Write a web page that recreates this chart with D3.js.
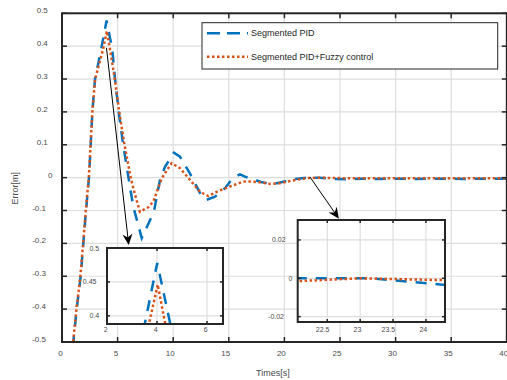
<!DOCTYPE html>
<html><head><meta charset="utf-8">
<script src="https://cdn.jsdelivr.net/npm/d3@7"></script>
<style>body{margin:0;background:#fff;overflow:hidden} text{font-family:"Liberation Sans",Arial,sans-serif}</style>
</head><body><svg id="c" width="507" height="380"></svg>
<script>
// ---------------- data ----------------
const seriesNames = ["Segmented PID", "Segmented PID+Fuzzy control"];
const pidTime = [0, 1.02, 1.32, 1.68, 1.92, 2.16, 2.43, 2.58, 2.73, 2.97, 3.52, 4.01, 4.52, 4.77, 5.1, 5.5, 5.98, 6.41, 7.17, 7.85, 8.27, 8.81, 9.26, 10.07, 10.61, 11.5, 12.41, 12.95, 13.76, 14.66, 15.38, 16.0, 16.46, 17.9, 18.9, 20.0, 21.0, 22.05, 23.15, 24.3, 25.7, 27, 28.5, 30, 32, 34, 36, 38, 40];
const pidError = [-1.0, -0.5, -0.4, -0.3, -0.2, -0.1, 0, 0.1, 0.2, 0.3, 0.39, 0.478, 0.39, 0.3, 0.2, 0.1, 0, -0.088, -0.184, -0.134, -0.103, -0.007, 0.033, 0.076, 0.064, 0.013, -0.047, -0.068, -0.058, -0.032, -0.001, 0.01, 0.003, -0.013, -0.02, -0.012, -0.004, 0.0, 0.0, -0.0035, -0.005, -0.003, -0.004, -0.003, -0.004, -0.003, -0.004, -0.003, -0.003];
const fuzzyTime = [0, 1.0, 1.3, 1.65, 1.9, 2.14, 2.41, 2.57, 2.73, 2.98, 3.69, 4.03, 4.32, 4.75, 5.15, 5.62, 6.18, 6.55, 7.01, 7.76, 8.21, 8.97, 9.56, 9.86, 10.61, 11.51, 12.41, 13.16, 13.91, 15.1, 16.3, 16.9, 17.8, 18.7, 19.6, 20.65, 22.05, 23.0, 24.3, 26, 28, 30, 32, 34, 36, 38, 40];
const fuzzyError = [-1.0, -0.5, -0.4, -0.3, -0.2, -0.1, 0, 0.1, 0.2, 0.3, 0.39, 0.446, 0.39, 0.3, 0.2, 0.1, 0, -0.05, -0.104, -0.09, -0.073, -0.002, 0.029, 0.044, 0.029, -0.007, -0.043, -0.056, -0.043, -0.027, -0.012, -0.012, -0.014, -0.019, -0.017, -0.009, -0.0015, 0.0, -0.001, -0.002, -0.002, -0.002, -0.002, -0.002, -0.002, -0.002, -0.002];
const xTicks = [0, 5, 10, 15, 20, 25, 30, 35, 40];
const yTicks = [-0.5, -0.4, -0.3, -0.2, -0.1, 0, 0.1, 0.2, 0.3, 0.4, 0.5];
const inset1XTicks = [2, 4, 6];
const inset1YTicks = [0.4, 0.45, 0.5];
const inset2XTicks = [22.5, 23, 23.5, 24];
const inset2YTicks = [-0.02, 0, 0.02];
const xLabel = "Times[s]";
const yLabel = "Error[m]";

// ---------------- styles ----------------
const BLUE = "#0072BD", ORANGE = "#D95319", AX = "#262626", GRID = "#dedede", TXT = "#4a4a4a";
const svg = d3.select("#c");
const defs = svg.append("defs");
const pidData = pidTime.map((t, i) => [t, pidError[i]]);
const fuzzyData = fuzzyTime.map((t, i) => [t, fuzzyError[i]]);

function shiftLabels(sel, kind) {
  sel.each(function () {
    const w = this.getComputedTextLength();
    const s = d3.select(this);
    if (kind === "y") s.attr("x", +s.attr("x") - 0.7 * w);
    else s.attr("x", +s.attr("x") - 0.34 * w);
  });
}

let clipId = 0;
function panel(cfg) {
  const { xs, ys, xt, yt, fs, tick, boxW, ylabOff, xlabOff, fmtX, fmtY } = cfg;
  const [x0, x1] = xs.range(), [y0, y1] = ys.range(); // y0 bottom, y1 top
  const g = svg.append("g");
  g.append("rect").attr("x", x0).attr("y", y1).attr("width", x1 - x0).attr("height", y0 - y1).attr("fill", "#fff");
  // grid
  g.selectAll(".gx").data(xt).join("line").attr("x1", d => xs(d)).attr("x2", d => xs(d))
    .attr("y1", y0).attr("y2", y1).attr("stroke", GRID).attr("stroke-width", 1.2);
  g.selectAll(".gy").data(yt).join("line").attr("y1", d => ys(d)).attr("y2", d => ys(d))
    .attr("x1", x0).attr("x2", x1).attr("stroke", GRID).attr("stroke-width", 1.2);
  // clip + lines
  const cid = "clip" + (clipId++);
  defs.append("clipPath").attr("id", cid).append("rect").attr("x", x0).attr("y", y1).attr("width", x1 - x0).attr("height", y0 - y1);
  const line = d3.line().x(d => xs(d[0])).y(d => ys(d[1]));
  const lg = g.append("g").attr("clip-path", `url(#${cid})`);
  lg.append("path").attr("d", line(pidData)).attr("fill", "none").attr("stroke", BLUE)
    .attr("stroke-width", 2.5).attr("stroke-dasharray", "11,9");
  lg.append("path").attr("d", line(fuzzyData)).attr("fill", "none").attr("stroke", ORANGE)
    .attr("stroke-width", 2.5).attr("stroke-dasharray", "2.5,2.5");
  cfg.afterLines && cfg.afterLines(g);
  // ticks
  const tk = g.append("g").attr("stroke", AX).attr("stroke-width", 1.5);
  xt.forEach(d => {
    tk.append("line").attr("x1", xs(d)).attr("x2", xs(d)).attr("y1", y0).attr("y2", y0 - tick);
    tk.append("line").attr("x1", xs(d)).attr("x2", xs(d)).attr("y1", y1).attr("y2", y1 + tick);
  });
  yt.forEach(d => {
    tk.append("line").attr("y1", ys(d)).attr("y2", ys(d)).attr("x1", x0).attr("x2", x0 + tick);
    tk.append("line").attr("y1", ys(d)).attr("y2", ys(d)).attr("x1", x1).attr("x2", x1 - tick);
  });
  // box
  g.append("rect").attr("x", x0).attr("y", y1).attr("width", x1 - x0).attr("height", y0 - y1)
    .attr("fill", "none").attr("stroke", AX).attr("stroke-width", boxW);
  // labels
  const xl = g.selectAll(".xl").data(xt).join("text").attr("x", d => xs(d)).attr("y", y0 + xlabOff)
    .attr("text-anchor", "middle").attr("font-size", fs).attr("fill", TXT).text(fmtX);
  shiftLabels(xl, "x");
  const yl = g.selectAll(".yl").data(yt).join("text").attr("x", x0 - ylabOff).attr("y", d => ys(d) + cfg.ydy)
    .attr("text-anchor", "end").attr("font-size", fs).attr("fill", TXT).text(fmtY);
  shiftLabels(yl, "y");
  return g;
}

// ---------------- main axes ----------------
const x = d3.scaleLinear().domain([0, 40]).range([62, 506.8]);
const y = d3.scaleLinear().domain([-0.5, 0.5]).range([342, 13.3]);

function arrow(g, p0, p1) {
  const [ax, ay] = [x(p0[0]), y(p0[1])], [bx, by] = [x(p1[0]), y(p1[1])];
  const ang = Math.atan2(by - ay, bx - ax);
  const L = 11, Wd = 5, N = 3.5;
  const ux = Math.cos(ang), uy = Math.sin(ang), px = -uy, py = ux;
  g.append("line").attr("x1", ax).attr("y1", ay).attr("x2", bx - ux * 6).attr("y2", by - uy * 6)
    .attr("stroke", "#000").attr("stroke-width", 1);
  const pts = [
    [bx, by],
    [bx - ux * L + px * Wd, by - uy * L + py * Wd],
    [bx - ux * (L - N), by - uy * (L - N)],
    [bx - ux * L - px * Wd, by - uy * L - py * Wd]
  ];
  g.append("path").attr("d", "M" + pts.map(p => p.join(",")).join("L") + "Z").attr("fill", "#000");
}

panel({
  xs: x, ys: y, xt: xTicks, yt: yTicks, fs: 8, tick: 5, boxW: 2, ylabOff: 6.4, xlabOff: 14, ydy: 0,
  fmtX: d => d, fmtY: d => d,
  afterLines: g => {
    arrow(g, [4.0, 0.395], [6.0, -0.205]);
    arrow(g, [22.3, 0.002], [24.9, -0.125]);
  }
});
// axis titles
const xtl = svg.append("text").attr("x", (x.range()[0] + x.range()[1]) / 2).attr("y", 376)
  .attr("text-anchor", "middle").attr("font-size", 9).attr("fill", TXT).text(xLabel);
shiftLabels(xtl, "x");
svg.append("text").attr("transform", `translate(18.2,${(y.range()[0] + y.range()[1]) / 2 + 10.5}) rotate(-90)`)
  .attr("text-anchor", "middle").attr("font-size", 9).attr("fill", TXT).text(yLabel);

// legend
const leg = svg.append("g");
leg.append("rect").attr("x", 202).attr("y", 22.7).attr("width", 295.7).attr("height", 46.3)
  .attr("fill", "#fff").attr("stroke", AX).attr("stroke-width", 1);
const legStyles = [{ c: BLUE, da: "13,7", yy: 33.3 }, { c: ORANGE, da: "2.5,2.5", yy: 56.7 }];
seriesNames.forEach((nm, i) => {
  const s = legStyles[i];
  leg.append("line").attr("x1", 207).attr("x2", 248).attr("y1", s.yy).attr("y2", s.yy)
    .attr("stroke", s.c).attr("stroke-width", 2.5).attr("stroke-dasharray", s.da);
  leg.append("text").attr("x", 251).attr("y", s.yy + 3).attr("font-size", 9).attr("fill", "#262626").text(nm);
});

// ---------------- inset 1 ----------------
panel({
  xs: d3.scaleLinear().domain([2, 6.64]).range([107, 223]),
  ys: d3.scaleLinear().domain([0.388, 0.5]).range([324, 248]),
  xt: inset1XTicks, yt: inset1YTicks, fs: 7, tick: 3, boxW: 2, ylabOff: 1, xlabOff: 8, ydy: 2.5,
  fmtX: d => d, fmtY: d => d
});
// ---------------- inset 2 ----------------
panel({
  xs: d3.scaleLinear().domain([22.05, 24.29]).range([297.7, 445]),
  ys: d3.scaleLinear().domain([-0.0228, 0.0304]).range([322, 220]),
  xt: inset2XTicks, yt: inset2YTicks, fs: 7, tick: 3, boxW: 2, ylabOff: 2.5, xlabOff: 9.5, ydy: 2.5,
  fmtX: d => d, fmtY: d => d
});
</script></body></html>
